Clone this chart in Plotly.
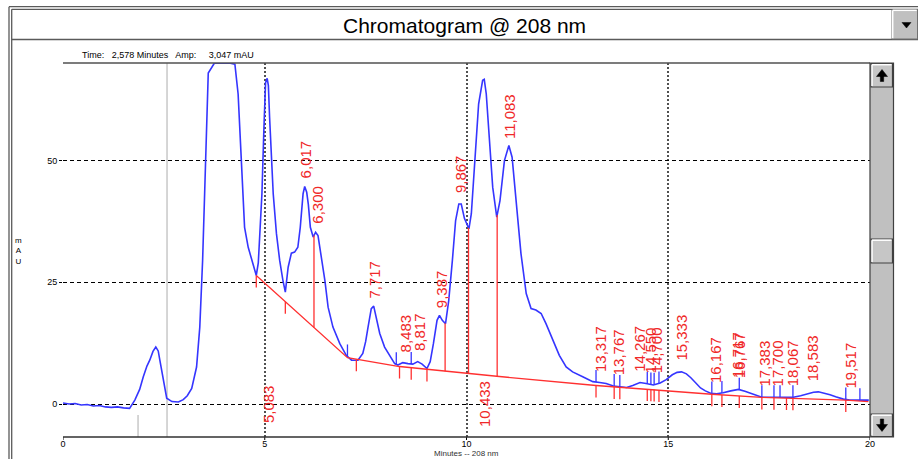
import numpy as np
import plotly.graph_objects as go

# ---------------- data ----------------
TIME = [0.00, 0.15, 0.30, 0.45, 0.60, 0.75, 0.90, 1.05, 1.20, 1.35, 1.50, 1.65, 1.78,
        1.90, 1.99, 2.08, 2.15, 2.23, 2.30, 2.36, 2.40, 2.48, 2.57, 2.70, 2.86, 2.98,
        3.08, 3.19, 3.31, 3.39, 3.46, 3.51, 3.56, 3.60, 3.75, 3.95, 4.15, 4.26, 4.34,
        4.42, 4.46, 4.50, 4.59, 4.71, 4.79, 4.84, 4.88, 4.93, 4.98, 5.02, 5.06, 5.09,
        5.12, 5.16, 5.21, 5.29, 5.37, 5.45, 5.51, 5.58, 5.66, 5.74, 5.82, 5.88, 5.95,
        5.99, 6.04, 6.08, 6.13, 6.20, 6.26, 6.32, 6.40, 6.49, 6.57, 6.69, 6.86, 7.02,
        7.15, 7.31, 7.43, 7.50, 7.56, 7.64, 7.70, 7.76, 7.85, 7.97, 8.09, 8.22, 8.30,
        8.42, 8.55, 8.67, 8.79, 8.90, 9.02, 9.10, 9.18, 9.27, 9.33, 9.40, 9.48, 9.56,
        9.65, 9.73, 9.81, 9.87, 9.95, 10.01, 10.06, 10.12, 10.20, 10.30, 10.40, 10.44,
        10.49, 10.57, 10.65, 10.75, 10.83, 10.94, 11.05, 11.13, 11.23, 11.35, 11.48,
        11.60, 11.72, 11.85, 11.97, 12.14, 12.30, 12.47, 12.63, 12.88, 13.13, 13.30,
        13.46, 13.64, 13.80, 13.97, 14.12, 14.30, 14.45, 14.63, 14.80, 14.95, 15.10,
        15.22, 15.33, 15.45, 15.56, 15.68, 15.80, 15.92, 16.05, 16.20, 16.36, 16.55,
        16.74, 16.90, 17.03, 17.18, 17.32, 17.50, 17.77, 17.95, 18.10, 18.28, 18.43,
        18.60, 18.72, 18.85, 19.01, 19.15, 19.34, 19.50, 19.67, 19.85, 19.97]
SIGNAL = [0.2, 0.0, 0.1, -0.2, -0.1, -0.4, -0.3, -0.6, -0.7, -0.6, -0.8, -0.9, 0.8,
          3.0, 5.6, 7.8, 9.0, 10.8, 11.7, 10.9, 9.0, 4.9, 1.2, 0.5, 0.4, 0.9,
          1.7, 3.2, 7.6, 15.8, 29.5, 43.2, 56.8, 68.0, 130.0, 160.0, 120.0, 69.8, 63.7,
          50.0, 43.2, 36.3, 32.2, 28.8, 26.4, 29.0, 35.0, 43.2, 56.8, 66.0, 66.9, 65.4,
          58.9, 50.5, 43.2, 35.0, 29.5, 25.4, 23.0, 28.1, 31.0, 31.2, 32.2, 36.3, 43.2,
          44.7, 43.5, 41.0, 36.3, 34.3, 35.3, 34.6, 30.2, 25.4, 19.9, 15.8, 12.4, 10.0,
          9.0, 9.0, 10.4, 12.8, 15.8, 19.6, 20.1, 17.9, 14.5, 11.7, 10.0, 8.3, 8.0,
          8.5, 8.3, 8.2, 8.7, 8.2, 7.3, 8.7, 12.4, 17.2, 18.2, 17.2, 16.5, 21.3,
          29.5, 37.7, 41.1, 41.1, 38.1, 37.0, 36.0, 39.1, 50.0, 61.6, 66.5, 66.7,
          63.7, 54.8, 44.5, 38.4, 41.8, 50.0, 53.1, 50.7, 41.8, 30.9, 22.7,
          19.6, 19.3, 18.6, 16.5, 13.1, 10.0, 7.6, 6.6, 5.6, 4.6, 4.4,
          4.2, 3.7, 3.5, 3.4, 3.8, 4.4, 4.2, 3.9, 4.3, 5.0, 6.0,
          6.5, 6.6, 6.2, 5.4, 4.3, 3.3, 2.7, 2.2, 2.1, 2.3, 2.7,
          3.0, 2.6, 2.2, 1.7, 1.4, 1.4, 1.4, 1.3, 1.4, 1.7, 2.1,
          2.4, 2.5, 2.3, 1.9, 1.5, 1.0, 0.8, 0.8, 0.7, 0.8]

BASE_T = [4.79, 7.05, 8.34, 9.02, 10.03, 10.75, 13.21, 13.66, 14.77, 16.08, 17.32, 18.09, 19.40, 19.96]
BASE_V = [26.4, 9.5, 7.7, 7.1, 6.25, 5.7, 3.8, 3.5, 2.9, 2.0, 1.35, 1.2, 0.8, 0.5]

DROP_T = [6.22, 9.47, 10.05, 10.76]

BLUE_TICKS = [7.05, 8.26, 8.63, 13.21, 13.66, 13.80, 14.48, 14.57, 14.65, 14.77,
              16.08, 16.33, 16.76, 17.32, 17.62, 17.77, 18.09, 19.40, 19.75]
RED_TICKS = [4.79, 5.51, 7.27, 8.34, 8.63, 9.02, 13.21, 13.66, 13.80, 14.48, 14.57,
             14.65, 14.77, 16.08, 16.33, 16.76, 17.32, 17.62, 17.93, 18.09, 19.40]

PEAK_TIMES = [5.083, 6.017, 6.300, 7.717, 8.483, 8.817, 9.387, 9.867, 10.433, 11.083,
              13.317, 13.767, 14.267, 14.550, 14.700, 15.333, 16.167, 16.717, 16.767,
              17.383, 17.700, 18.067, 18.583, 19.517]
PEAK_LABELS = ["5,083", "6,017", "6,300", "7,717", "8,483", "8,817", "9,387", "9,867",
               "10,433", "11,083", "13,317", "13,767", "14,267", "14,550", "14,700",
               "15,333", "16,167", "16,717", "16,767", "17,383", "17,700", "18,067",
               "18,583", "19,517"]

X_TICKS = [0, 5, 10, 15, 20]
Y_TICKS = [0, 25, 50]
CURSOR_T = 2.578
MARK_T = 1.86

# ---------------- geometry helpers ----------------
L, R, T, B = 63, 870, 63, 437
W, H = 918, 459
Y_MIN, Y_MAX = -6.78, 70.06


def px(x):
    return (x - L) / (R - L)


def py(y):
    return (B - y) / (B - T)


t = np.array(TIME)
s = np.array(SIGNAL)
draw_s = np.minimum(s, Y_MAX - 0.05)

fig = go.Figure()
fig.add_trace(go.Scatter(x=t, y=draw_s, mode="lines",
                         line=dict(color="#3535ff", width=1.6), hoverinfo="skip"))
fig.add_trace(go.Scatter(x=BASE_T, y=BASE_V, mode="lines",
                         line=dict(color="#ff3030", width=1.3), hoverinfo="skip"))

shapes = []
for d in DROP_T:
    shapes.append(dict(type="line", xref="x", yref="y", x0=d, x1=d,
                       y0=float(np.interp(d, BASE_T, BASE_V)), y1=float(np.interp(d, t, s)),
                       line=dict(color="#ff3030", width=1.3)))
for bt in BLUE_TICKS:
    shapes.append(dict(type="line", xref="x", yref="y", ysizemode="pixel",
                       yanchor=float(np.interp(bt, t, s)), x0=bt, x1=bt, y0=0, y1=12,
                       line=dict(color="#3535ff", width=1.3)))
for rt in RED_TICKS:
    shapes.append(dict(type="line", xref="x", yref="y", ysizemode="pixel",
                       yanchor=float(np.interp(rt, BASE_T, BASE_V)), x0=rt, x1=rt, y0=0, y1=-12,
                       line=dict(color="#ff3030", width=1.3)))
for xt in X_TICKS:
    shapes.append(dict(type="line", xref="x", yref="paper", x0=xt, x1=xt, y0=0, y1=-3 / (B - T),
                       line=dict(color="black", width=1)))
shapes.append(dict(type="line", xref="x", yref="paper", x0=CURSOR_T, x1=CURSOR_T, y0=0, y1=1,
                   line=dict(color="#c8c8c8", width=1.5), layer="below"))
shapes.append(dict(type="line", xref="x", yref="paper", x0=MARK_T, x1=MARK_T, y0=0, y1=py(415),
                   line=dict(color="#c8c8c8", width=1.5), layer="below"))

FR = "#5a5a5a"


def pline(x0, y0, x1, y1, color=FR, width=1.3):
    shapes.append(dict(type="line", xref="paper", yref="paper", x0=px(x0), x1=px(x1),
                       y0=py(y0), y1=py(y1), line=dict(color=color, width=width)))


def prect(x0, y0, x1, y1, fill, color=FR, width=1):
    shapes.append(dict(type="rect", xref="paper", yref="paper", x0=px(x0), x1=px(x1),
                       y0=py(y0), y1=py(y1), fillcolor=fill, line=dict(color=color, width=width)))


def ppath(points, fill):
    d = "M " + " L ".join(f"{px(a):.5f},{py(b):.5f}" for a, b in points) + " Z"
    shapes.append(dict(type="path", xref="paper", yref="paper", path=d, fillcolor=fill,
                       line=dict(color=fill, width=0.5)))


pline(9, 6.7, 9, 459)
pline(11.7, 9.3, 11.7, 459)
pline(9, 6.7, 918, 6.7)
pline(11.7, 9.3, 918, 9.3)
pline(11.7, 39.5, 918, 39.5)
pline(L, T, R, T, color="#505050", width=1.5)
pline(L, B, R, B, color="#303030", width=1.5)
prect(892, 9.5, 917.5, 39, "#c0c0c0", color="#707070")
pline(892.7, 10.3, 916.7, 10.3, color="white", width=1.5)
pline(892.7, 10.3, 892.7, 38.3, color="white", width=1.5)
ppath([(902, 22.5), (911, 22.5), (906.5, 28)], "black")
prect(870, 63, 893.5, 437, "#c0c0c0", color="#404040", width=1.2)
for (y0, y1) in [(63.5, 87), (239, 263), (414, 436.5)]:
    prect(871, y0, 892.5, y1, "#c6c6c6", color="#404040", width=1.2)
    pline(872, y0 + 1.2, 891.5, y0 + 1.2, color="white", width=1.5)
    pline(872, y0 + 1.2, 872, y1 - 1, color="white", width=1.5)
ppath([(876.5, 76.5), (887.5, 76.5), (882, 69.5)], "black")
prect(880.3, 76, 883.7, 81.5, "black", color="black", width=0.5)
ppath([(876.5, 424.5), (887.5, 424.5), (882, 431.5)], "black")
prect(880.3, 419, 883.7, 425, "black", color="black", width=0.5)

annotations = []
LABEL_FONT = dict(color="#f02828", size=15, family="Liberation Sans")
for rt_, lab in zip(PEAK_TIMES, PEAK_LABELS):
    v = float(np.interp(rt_, t, s))
    if v > 60:
        annotations.append(dict(x=rt_, y=0, xref="x", yref="y", text=lab, textangle=-90,
                                showarrow=False, xanchor="center", yanchor="middle",
                                font=LABEL_FONT))
    else:
        annotations.append(dict(x=rt_, y=v, xref="x", yref="y", text=lab, textangle=-90,
                                showarrow=False, xanchor="center", yanchor="bottom", yshift=9,
                                font=LABEL_FONT))


def ptext(x, y, text, size, anchor="center", color="black", family="Liberation Sans", **kw):
    annotations.append(dict(x=px(x), y=py(y), xref="paper", yref="paper", text=text,
                            showarrow=False, xanchor=anchor, yanchor="middle",
                            font=dict(size=size, color=color, family=family), **kw))


ptext(464, 25, "Chromatogram @ 208 nm", 21, family="Liberation Sans Narrow, Arial Narrow, Liberation Sans")
ptext(80, 55, "Time:&nbsp;&nbsp; 2,578 Minutes&nbsp;&nbsp; Amp:&nbsp;&nbsp;&nbsp;&nbsp; 3,047 mAU", 9, anchor="left")
ptext(18, 251, "m<br>A<br>U", 8)
ptext(466, 453.5, "Minutes -- 208 nm", 8, color="#303030")

fig.update_layout(
    template="none",
    width=W, height=H,
    margin=dict(l=L, r=W - R, t=T, b=H - B, pad=0, autoexpand=False),
    paper_bgcolor="white", plot_bgcolor="white",
    showlegend=False,
    shapes=shapes, annotations=annotations,
    xaxis=dict(range=[0, 20], tickvals=X_TICKS, ticktext=[str(v) for v in X_TICKS],
               automargin=False,
               showgrid=True, gridcolor="#505050", gridwidth=2, griddash="2px,2px",
               zeroline=False, showline=False, ticks="", ticklen=0,
               tickfont=dict(size=9, family="Liberation Sans", color="black")),
    yaxis=dict(range=[Y_MIN, Y_MAX], tickvals=Y_TICKS, ticktext=[str(v) for v in Y_TICKS],
               automargin=False,
               showgrid=True, gridcolor="black", gridwidth=1.2, griddash="4px,3px",
               zeroline=False, showline=False, ticks="outside", ticklen=3, tickcolor="black",
               tickfont=dict(size=9, family="Liberation Sans", color="black")),
)

fig.write_html("out.html", config={"displayModeBar": False},
               post_script="document.body.style.margin='0px';document.body.style.overflow='hidden';")
